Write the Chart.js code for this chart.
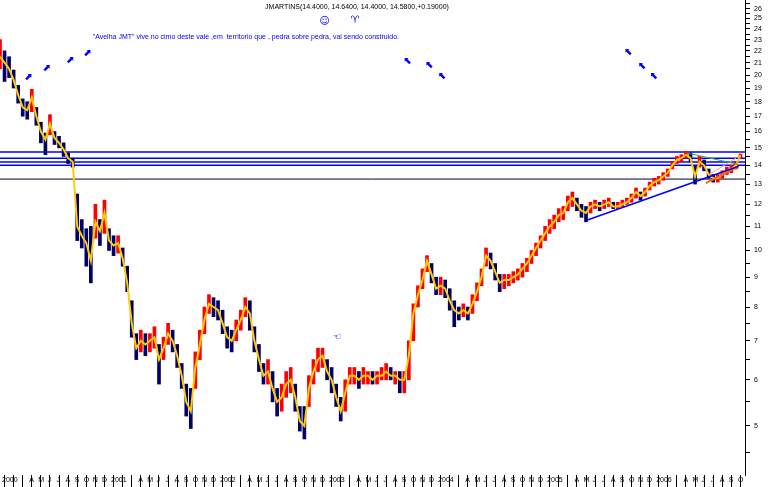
<!DOCTYPE html>
<html><head><meta charset="utf-8">
<script src="https://cdn.jsdelivr.net/npm/chart.js@4/dist/chart.umd.min.js"></script>
<style>html,body{margin:0;padding:0;background:#fff}#wrap{width:770px;height:487px;position:relative}</style>
</head><body><div id="wrap"><canvas id="c"></canvas></div>
<script>
// sampling: half-month steps starting Jan 2000 (t = months since Jan 1, 2000)
const sampleStep = 0.5;
const closePx = [21.5,21.0,20.5,19.6,18.5,17.6,17.4,18.3,17.0,16.0,
15.5,16.5,15.6,15.3,14.9,14.4,14.2,11.0,10.6,10.3,
9.6,11.2,10.8,11.6,10.4,10.2,10.3,9.7,8.8,7.5,
6.8,7.0,6.9,7.0,7.1,6.5,6.8,7.2,7.0,6.6,
6.1,5.5,5.3,6.3,6.9,7.6,8.1,8.0,7.9,7.5,
7.1,7.0,7.3,7.6,8.0,7.8,7.0,6.5,6.1,6.2,
5.8,5.5,5.6,5.9,6.0,5.6,5.1,5.0,5.8,6.2,
6.5,6.6,6.2,6.0,5.6,5.3,5.7,6.1,6.1,6.0,
6.1,6.1,6.0,6.1,6.1,6.2,6.1,6.1,6.0,6.0,
6.6,7.8,8.4,8.9,9.6,9.1,8.6,8.7,8.6,8.2,
7.9,7.8,7.9,7.8,8.1,8.5,9.0,9.8,9.6,9.2,
8.8,8.9,8.9,9.0,9.1,9.3,9.5,9.8,10.1,10.4,
10.7,11.0,11.2,11.5,11.6,12.1,12.3,12.0,11.7,11.6,
11.9,12.0,11.9,12.0,12.1,11.9,11.9,12.0,12.1,12.3,
12.6,12.4,12.6,12.9,13.1,13.2,13.4,13.6,14.0,14.3,
14.4,14.6,14.4,13.4,14.2,14.0,13.5,13.3,13.3,13.5,
13.7,13.8,14.0,14.58];
const highPx = [23.0,22.0,21.5,20.4,19.2,18.2,18.0,18.9,17.6,16.6,
15.9,17.1,16.0,15.7,15.3,14.7,14.4,12.5,11.3,10.9,
11.0,12.0,11.3,12.2,10.9,10.6,10.6,10.1,9.4,8.2,
7.2,7.3,7.2,7.2,7.4,6.9,7.1,7.5,7.3,6.9,
6.4,5.9,5.8,6.7,7.3,8.0,8.4,8.3,8.2,7.9,
7.4,7.3,7.6,7.9,8.3,8.2,7.4,6.9,6.4,6.5,
6.2,5.8,5.9,6.2,6.3,5.9,5.4,5.4,6.1,6.5,
6.8,6.8,6.5,6.3,5.9,5.6,6.0,6.3,6.3,6.2,
6.3,6.2,6.2,6.2,6.3,6.4,6.3,6.2,6.2,6.2,
7.0,8.1,8.7,9.3,9.8,9.5,9.0,9.0,8.9,8.6,
8.2,8.0,8.1,8.0,8.4,8.8,9.3,10.1,9.9,9.5,
9.1,9.1,9.1,9.2,9.3,9.5,9.7,10.0,10.3,10.6,
11.0,11.3,11.5,11.8,11.9,12.4,12.6,12.3,12.0,11.9,
12.1,12.2,12.1,12.2,12.3,12.1,12.1,12.2,12.3,12.5,
12.8,12.6,12.8,13.1,13.3,13.4,13.6,13.8,14.2,14.5,
14.6,14.8,14.7,14.0,14.5,14.3,13.8,13.5,13.5,13.7,
13.9,14.0,14.2,14.64];
const lowPx = [20.5,19.5,19.8,19.0,17.9,17.0,16.8,17.3,16.4,15.3,
14.6,15.8,15.2,15.0,14.5,14.1,13.9,10.4,10.1,9.4,
8.8,10.5,10.2,10.7,10.0,9.8,9.9,9.4,8.5,7.1,
6.5,6.7,6.6,6.7,6.8,5.9,6.5,6.9,6.7,6.3,
5.8,5.2,4.95,5.8,6.5,7.2,7.8,7.7,7.6,7.2,
6.8,6.7,7.0,7.3,7.7,7.3,6.7,6.2,5.9,5.9,
5.5,5.2,5.3,5.6,5.7,5.3,4.9,4.75,5.4,5.9,
6.2,6.3,6.0,5.7,5.4,5.1,5.3,5.9,5.9,5.8,
5.9,5.9,5.9,5.9,6.0,6.0,6.0,5.9,5.7,5.7,
6.0,7.0,8.0,8.6,9.2,8.8,8.4,8.4,8.3,7.9,
7.4,7.6,7.7,7.6,7.8,8.2,8.7,9.4,9.3,8.9,
8.5,8.6,8.7,8.8,8.9,9.0,9.2,9.5,9.8,10.1,
10.4,10.7,10.9,11.2,11.3,11.7,11.9,11.7,11.4,11.2,
11.6,11.8,11.7,11.8,11.9,11.8,11.8,11.9,12.0,12.1,
12.3,12.2,12.4,12.7,12.9,13.0,13.2,13.4,13.8,14.1,
14.2,14.4,14.2,13.0,13.9,13.7,13.3,13.1,13.1,13.3,
13.5,13.6,13.8,14.4];

// horizontal support / resistance levels
const blueLevels = [14.75, 14.40, 14.18, 14.01];
const blackLevel = 13.26;
// trend lines [t0, v0, t1, v1]
const blueTrend = [64.5, 11.26, 81.3, 13.95];
const greenTrend = [75.6, 14.7, 81.3, 14.05];
const orangeTrend = [77.7, 13.05, 81.3, 13.95];
const orangeThin = [78.0, 13.49, 81.0, 14.4];

// axis
const monthLetters = ['', '', '', 'A', 'M', 'J', 'J', 'A', 'S', 'O', 'N', 'D'];
const firstYear = 2000;
const xMin = 0, xMax = 82, lastLabelled = 81;
const yMin = 4.12, yMax = 26.9;
const yTickValues = [];
for (let v = 4.5; v <= 26.5; v += 0.5) yTickValues.push(v);

// annotations
const titleText = 'JMARTINS(14.4000, 14.6400, 14.4000, 14.5800,+0.19000)';
const noteText = '"Avelha JMT" vive no cimo deste vale ,em  territorio que , pedra sobre pedra, vai sendo construido.';
const notePos = [10.2, 23.2];
const upArrows = [[3.1, 19.8], [5.1, 20.5], [7.7, 21.2], [9.6, 21.8]];
const backArrows = [[44.9, 21.1], [47.3, 20.8], [48.7, 19.9], [69.2, 21.9], [70.7, 20.7], [72.0, 19.9]];
const glyphs = [['\u263A', 35.7, 24.7], ['\u2648', 39.1, 24.8], ['\u261C', 37.1, 7.1]];

const tVals = closePx.map((_, i) => i * sampleStep);
const barData = tVals.map((t, i) => ({x: t, y: [lowPx[i], highPx[i]]}));
const barColors = closePx.map((c, i) => (i > 0 && c < closePx[i-1]) ? '#000066' : '#ff0000');
const closeData = tVals.map((t, i) => ({x: t, y: closePx[i]}));

const seg = (a) => [{x: a[0], y: a[1]}, {x: a[2], y: a[3]}];
const levelDs = (v, col, w) => ({type: 'line', data: [{x: xMin, y: v}, {x: xMax, y: v}], borderColor: col, borderWidth: w, pointRadius: 0, order: 10});
const noPad = (ax) => { ax.paddingTop = 0; ax.paddingBottom = 0; ax.paddingLeft = 0; ax.paddingRight = 0; };

const annot = {
  id: 'annot',
  afterDraw(chart) {
    const ctx = chart.ctx, xs = chart.scales.x, ys = chart.scales.y;
    ctx.save();
    ctx.fillStyle = '#000';
    ctx.font = '7px "Liberation Sans", Arial, sans-serif';
    ctx.textAlign = 'center'; ctx.textBaseline = 'middle';
    ctx.fillText(titleText, 357, 7);
    ctx.fillStyle = '#0000ff';
    ctx.textAlign = 'left';
    ctx.fillText(noteText, xs.getPixelForValue(notePos[0]), ys.getPixelForValue(notePos[1]));
    ctx.textAlign = 'center';
    ctx.font = 'bold 10px "DejaVu Sans", sans-serif';
    upArrows.forEach(p => ctx.fillText('\u2B08', xs.getPixelForValue(p[0]), ys.getPixelForValue(p[1])));
    backArrows.forEach(p => ctx.fillText('\u2B09', xs.getPixelForValue(p[0]), ys.getPixelForValue(p[1])));
    ctx.font = '10px "DejaVu Sans", sans-serif';
    glyphs.forEach(g => ctx.fillText(g[0], xs.getPixelForValue(g[1]), ys.getPixelForValue(g[2])));
    ctx.restore();
  }
};

new Chart(document.getElementById('c'), {
  type: 'bar',
  data: {
    datasets: [
      ...blueLevels.map(v => levelDs(v, '#0000ff', 1.5)),
      levelDs(blackLevel, '#000033', 1),
      {type: 'bar', data: barData, backgroundColor: barColors, barThickness: 3, order: 5},
      {type: 'line', data: closeData, borderColor: '#ffcc00', borderWidth: 2, pointRadius: 0, tension: 0, order: 4},
      {type: 'line', data: seg(blueTrend), borderColor: '#0000ff', borderWidth: 1.5, pointRadius: 0, order: 1},
      {type: 'line', data: seg(greenTrend), borderColor: '#33aa33', borderWidth: 1, pointRadius: 0, order: 1},
      {type: 'line', data: seg(orangeTrend), borderColor: '#ff6600', borderWidth: 2, pointRadius: 0, order: 1},
      {type: 'line', data: seg(orangeThin), borderColor: '#ffaa66', borderWidth: 1, pointRadius: 0, order: 1}
    ]
  },
  options: {
    responsive: true, maintainAspectRatio: false, animation: false,
    layout: {padding: 0},
    plugins: {legend: {display: false}, tooltip: {enabled: false}},
    scales: {
      x: {
        type: 'linear', min: xMin, max: xMax, offset: false,
        afterBuildTicks: (ax) => { const a = []; for (let m = xMin; m <= xMax; m++) a.push({value: m}); ax.ticks = a; },
        afterFit: (ax) => { ax.height = 12; noPad(ax); },
        grid: {drawOnChartArea: false, drawTicks: true, tickLength: 12, color: '#000', lineWidth: 1},
        border: {display: false},
        ticks: {
          autoSkip: false, maxRotation: 0, minRotation: 0, align: 'start', labelOffset: 2, padding: -11,
          color: '#000', font: {family: 'Liberation Sans, Arial, sans-serif', size: 7},
          callback: (v) => { const m = Math.round(v); if (m > lastLabelled) return ''; const mi = m % 12; return mi === 0 ? String(firstYear + m / 12) : monthLetters[mi]; }
        }
      },
      y: {
        type: 'logarithmic', position: 'right', min: yMin, max: yMax,
        afterBuildTicks: (ax) => { ax.ticks = yTickValues.map(v => ({value: v})); },
        afterFit: (ax) => { ax.width = 25; noPad(ax); },
        grid: {drawOnChartArea: false, drawTicks: true, tickLength: 5, color: '#000'},
        border: {display: true, color: '#000', width: 1},
        ticks: {
          autoSkip: false, padding: 4, color: '#000', font: {family: 'Liberation Sans, Arial, sans-serif', size: 7},
          callback: (v) => Number.isInteger(v) ? String(v) : ''
        }
      }
    }
  },
  plugins: [annot]
});
</script>
</body></html>
